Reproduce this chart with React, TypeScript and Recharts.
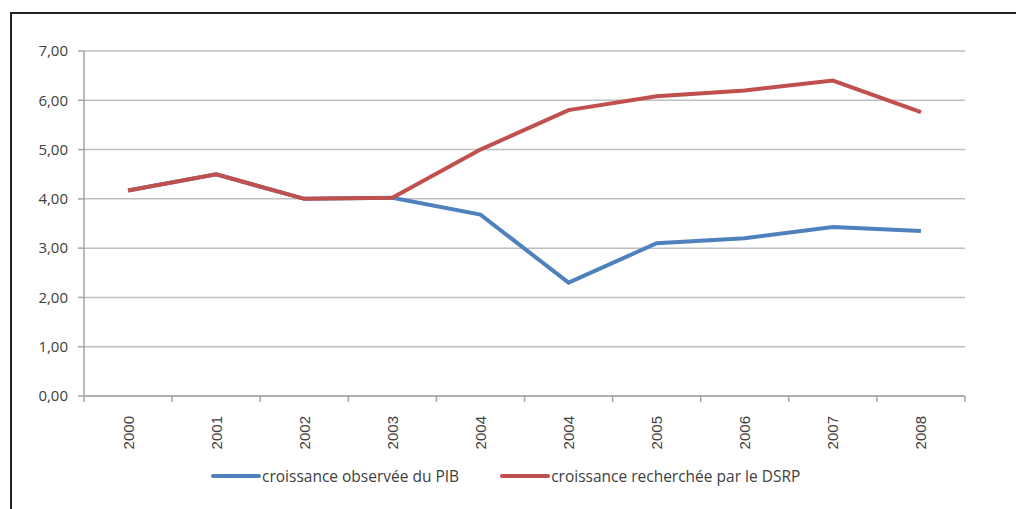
import { LineChart, Line, XAxis, YAxis, CartesianGrid, Legend } from "recharts";

const years = ["2000", "2001", "2002", "2003", "2004", "2004", "2005", "2006", "2007", "2008"];
const observed = [4.17, 4.5, 4.0, 4.02, 3.68, 2.3, 3.1, 3.2, 3.43, 3.35];
const targeted = [4.17, 4.5, 4.0, 4.02, 5.0, 5.8, 6.08, 6.2, 6.4, 5.76];
const yTicks = [0, 1, 2, 3, 4, 5, 6, 7];

const BLUE = "#4f81bd";
const RED = "#c0504d";
const AXIS = "#a6a6a6";
const GRID = "#bfbfbf";

const W = 1016;
const H = 509;
const PLOT_LEFT = 84;
const PLOT_RIGHT = 965;
const BAND = (PLOT_RIGHT - PLOT_LEFT) / years.length;

const data = years.map((y, i) => ({
  idx: i,
  year: y,
  observed: observed[i],
  targeted: targeted[i],
}));

function YearTick(props: any) {
  const { x, y, payload, index } = props;
  const label = years[payload.value];
  const left = x - BAND / 2;
  return (
    <g>
      <line x1={left} y1={y - 8} x2={left} y2={y - 2} stroke={AXIS} strokeWidth={1.5} />
      {index === years.length - 1 && (
        <line x1={left + BAND} y1={y - 8} x2={left + BAND} y2={y - 2} stroke={AXIS} strokeWidth={1.5} />
      )}
      <text
        x={x}
        y={y + 12}
        transform={`rotate(-90 ${x} ${y + 12})`}
        textAnchor="end"
        dominantBaseline="central"
        fontFamily="Liberation Sans, Arial, sans-serif"
        fontSize={15}
        fill="#404040"
      >
        {label}
      </text>
    </g>
  );
}

function LegendBox() {
  const items = [
    { label: "croissance observée du PIB", color: BLUE },
    { label: "croissance recherchée par le DSRP", color: RED },
  ];
  return (
    <div style={{ display: "flex", gap: 41, justifyContent: "flex-start", paddingLeft: 211 }}>
      {items.map((it) => (
        <div key={it.label} style={{ display: "flex", alignItems: "center" }}>
          <svg width={50} height={8}>
            <line x1={2} y1={4} x2={48} y2={4} stroke={it.color} strokeWidth={4} strokeLinecap="round" />
          </svg>
          <span style={{ fontFamily: "Open Sans, sans-serif", fontSize: 15.5, color: "#404040", marginLeft: 1 }}>
            {it.label}
          </span>
        </div>
      ))}
    </div>
  );
}

export default function App() {
  return (
    <div style={{ position: "absolute", left: 0, top: 0, width: W, height: H, background: "#fff", overflow: "hidden" }}>
      <div
        style={{
          position: "absolute",
          left: 10,
          top: 12,
          width: W,
          height: H,
          borderLeft: "2px solid #222",
          borderTop: "2px solid #222",
        }}
      />
      <LineChart
        width={W}
        height={H}
        data={data}
        margin={{ top: 51, right: W - PLOT_RIGHT, left: PLOT_LEFT - 60, bottom: 33 }}
      >
        <CartesianGrid vertical={false} stroke={GRID} strokeWidth={1.5} />
        <XAxis
          dataKey="idx"
          type="category"
          height={50}
          padding={{ left: BAND / 2, right: BAND / 2 }}
          tickLine={false}
          axisLine={{ stroke: AXIS, strokeWidth: 1.5 }}
          tick={<YearTick />}
          interval={0}
        />
        <YAxis
          width={60}
          domain={[0, 7]}
          ticks={yTicks}
          tickFormatter={(v: number) => v.toFixed(2).replace(".", ",")}
          tickSize={6}
          tickMargin={10}
          tickLine={{ stroke: AXIS, strokeWidth: 1.5 }}
          axisLine={{ stroke: AXIS, strokeWidth: 1.5 }}
          tick={{ fill: "#404040", fontSize: 15, fontFamily: "Open Sans, sans-serif" }}
        />
        <Line
          dataKey="observed"
          stroke={BLUE}
          strokeWidth={4}
          dot={false}
          isAnimationActive={false}
          name="croissance observée du PIB"
        />
        <Line
          dataKey="targeted"
          stroke={RED}
          strokeWidth={4}
          dot={false}
          isAnimationActive={false}
          name="croissance recherchée par le DSRP"
        />
        <Legend
          verticalAlign="bottom"
          height={30}
          content={<LegendBox />}
          wrapperStyle={{ top: 465, left: 0, width: W }}
        />
      </LineChart>
    </div>
  );
}
